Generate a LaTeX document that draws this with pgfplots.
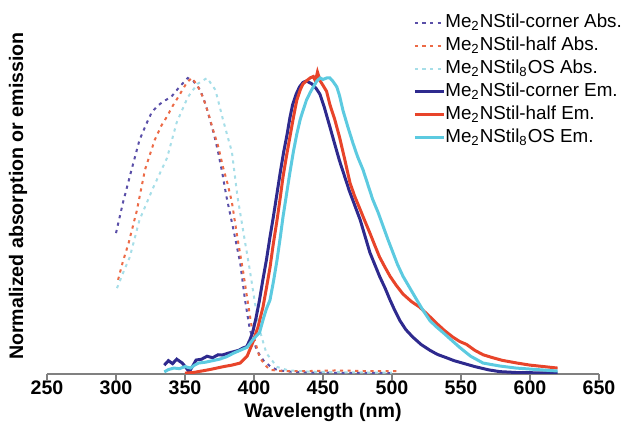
\documentclass[border=0pt]{standalone}
\usepackage{pgfplots}
\pgfplotsset{compat=1.18}
\usepackage{fontspec}
\setmainfont{Liberation Sans}
\definecolor{cornerabs}{HTML}{5A4FA8}
\definecolor{halfabs}{HTML}{EC6A46}
\definecolor{octabs}{HTML}{A6DEE8}
\definecolor{cornerem}{HTML}{2E2A8E}
\definecolor{halfem}{HTML}{E8442A}
\definecolor{octem}{HTML}{5CCAE0}
\definecolor{axgray}{HTML}{808080}
\begin{document}
\begin{tikzpicture}
\path[use as bounding box] (-23.5pt,-29pt) rectangle (290pt,187pt);
\begin{axis}[
  at={(0,0)}, anchor=south west,
  scale only axis, width=276pt, height=185pt,
  xmin=250, xmax=650, ymin=0, ymax=1.25,
  axis x line=bottom, axis y line=none,
  axis line style={axgray, line width=0.8pt, -},
  xtick={250,300,...,650},
  tick align=outside, major tick length=3pt,
  tick style={axgray, line width=0.8pt},
  /pgf/number format/assume math mode=true,
  /pgf/number format/1000 sep={},
  ticklabel style={font=\fontsize{9.8}{11}\selectfont\bfseries},
  xticklabel style={yshift=3.3pt},
  xlabel={Wavelength (nm)},
  xlabel style={font=\fontsize{9.8}{11}\selectfont\bfseries, at={(rel axis cs:0.5,0)}, anchor=center, yshift=-19pt},
  legend cell align=left,
  legend style={draw=none, fill=none, at={(rel axis cs:0.663,0.975)}, anchor=north west,
    font=\fontsize{9.4}{11}\selectfont, row sep=2.5pt, inner sep=0pt,
    nodes={inner sep=0pt, text height=7pt, text depth=2pt}},
  legend image code/.code={\draw[#1] (0pt,0pt) -- (14.5pt,0pt);},
  /tikz/every even column/.append style={column sep=2pt},
]
\addplot[cornerabs, line width=1pt, dash pattern=on 1.6pt off 2.2pt] coordinates {
(300,0.476)(305,0.578)(311.6,0.696)(317,0.79)(322,0.845)(326,0.885)(330,0.905)(334,0.92)(340,0.936)(346,0.97)(352,1.0)(356,0.99)(361,0.96)(365,0.91)(368,0.86)(371,0.81)(374,0.75)(377,0.68)(380,0.6)(385,0.49)(390,0.375)(393.5,0.25)(397,0.15)(402,0.08)(407,0.045)(412,0.025)(417,0.013)(425,0.008)(440,0.005)(460,0.004)(480,0.004)(500,0.003)};
\addlegendentry{Me\textsubscript{2}NStil-corner Abs.}
\addplot[halfabs, line width=1pt, dash pattern=on 1.6pt off 2.2pt] coordinates {
(301.5,0.318)(305,0.38)(309,0.44)(315,0.55)(321,0.69)(328,0.79)(333,0.84)(337,0.87)(341,0.905)(345,0.935)(351.5,0.986)(355,1.0)(359,0.975)(363,0.935)(367,0.88)(370,0.83)(374,0.77)(377.5,0.70)(381,0.64)(384,0.58)(388,0.46)(392,0.35)(395.6,0.24)(399,0.14)(404,0.057)(408,0.03)(411.6,0.014)(420,0.01)(440,0.01)(460,0.012)(480,0.01)(505,0.01)};
\addlegendentry{Me\textsubscript{2}NStil-half Abs.}
\addplot[octabs, line width=1pt, dash pattern=on 1.6pt off 2.2pt] coordinates {
(300.7,0.29)(305,0.34)(310,0.395)(317,0.52)(322,0.575)(327,0.63)(332,0.68)(337,0.73)(344,0.85)(352,0.935)(359,0.98)(366,1.0)(372,0.96)(377.5,0.86)(381,0.80)(384,0.75)(388,0.6)(393,0.46)(397,0.35)(400.7,0.24)(404,0.15)(409,0.07)(416.7,0.024)(425,0.012)(440,0.008)(460,0.006)(480,0.005)(500,0.005)};
\addlegendentry{Me\textsubscript{2}NStil\textsubscript{8}OS Abs.}
\addplot[cornerem, line width=1.5pt] coordinates {
(335,0.03)(338,0.045)(341,0.035)(344,0.05)(348,0.037)(351,0.02)(353,0.007)(356,0.03)(358,0.047)(362,0.05)(366,0.06)(370,0.055)(374,0.065)(377,0.064)(381,0.07)(385,0.075)(389,0.08)(392,0.088)(394.7,0.092)(397,0.115)(399,0.14)(401.5,0.19)(404,0.25)(406.5,0.32)(409,0.385)(411.5,0.46)(414,0.53)(416.5,0.605)(419,0.68)(421.5,0.75)(424,0.81)(426,0.865)(428,0.91)(430.5,0.945)(433,0.97)(435.5,0.985)(438,0.99)(440,0.985)(442,0.98)(445,0.965)(447.8,0.945)(451,0.9)(455,0.835)(458,0.785)(462,0.72)(465.5,0.67)(469,0.62)(473,0.57)(477,0.52)(480.5,0.465)(484,0.41)(487.5,0.37)(491,0.33)(495,0.29)(498.6,0.25)(502,0.215)(505.8,0.18)(510,0.15)(515,0.125)(521,0.1)(527.5,0.08)(533,0.066)(540,0.054)(545,0.045)(551,0.037)(560,0.025)(570,0.014)(578,0.008)(590,0.005)(605,0.004)(620,0.003)};
\addlegendentry{Me\textsubscript{2}NStil-corner Em.}
\addplot[halfem, line width=1.5pt] coordinates {
(350,0.003)(356,0.005)(362,0.01)(368,0.015)(373,0.02)(378,0.025)(384,0.03)(390,0.037)(395,0.06)(399,0.105)(403,0.16)(406.5,0.226)(409,0.29)(411.6,0.36)(414,0.44)(416.7,0.52)(419,0.595)(421,0.665)(423.5,0.735)(426,0.8)(428.5,0.865)(431,0.925)(433.5,0.96)(435.5,0.98)(438,0.99)(440.6,1.0)(443,1.005)(444.5,0.99)(446,1.02)(448,0.99)(450,0.975)(452.6,0.955)(455,0.91)(458.5,0.86)(462,0.8)(466,0.72)(469.6,0.645)(473,0.6)(477,0.555)(480.5,0.515)(484,0.476)(487.5,0.435)(491,0.395)(495,0.36)(498.6,0.33)(503,0.3)(508,0.27)(514,0.245)(520,0.226)(526,0.2)(532.6,0.17)(538,0.147)(544,0.125)(549,0.11)(554,0.1)(560,0.08)(566,0.065)(573,0.055)(580,0.046)(590.6,0.037)(600,0.03)(610,0.025)(620,0.02)};
\addlegendentry{Me\textsubscript{2}NStil-half Em.}
\addplot[octem, line width=1.5pt] coordinates {
(335,0.007)(338,0.015)(342,0.02)(346,0.018)(350,0.025)(354,0.02)(357,0.03)(360,0.037)(365,0.04)(370,0.045)(375,0.05)(380,0.058)(385,0.07)(390,0.08)(395,0.09)(399,0.115)(404,0.14)(407,0.19)(409,0.22)(411.6,0.25)(414,0.31)(416.7,0.385)(419,0.46)(421,0.53)(423.5,0.605)(426,0.68)(428.5,0.75)(431,0.81)(433.5,0.86)(435.5,0.89)(438,0.925)(440.6,0.95)(443,0.97)(445.6,0.99)(448,1.0)(450,0.995)(452.6,1.0)(455,1.0)(457,0.99)(460,0.97)(462,0.94)(464.5,0.89)(468,0.835)(471.7,0.78)(475,0.735)(479,0.69)(482.5,0.64)(486,0.59)(490,0.545)(493.5,0.50)(497,0.455)(500.7,0.41)(504,0.37)(508,0.33)(513,0.29)(518,0.25)(522.5,0.215)(527.5,0.18)(532,0.16)(537,0.14)(543,0.115)(549,0.09)(557,0.06)(566,0.037)(578,0.027)(590,0.02)(605,0.015)(620,0.01)};
\addlegendentry{Me\textsubscript{2}NStil\textsubscript{8}OS Em.}
\end{axis}
\node[rotate=90, font=\fontsize{9.8}{11}\selectfont\bfseries] at (-14.5pt,89pt) {Normalized absorption or emission};
\end{tikzpicture}
\end{document}
